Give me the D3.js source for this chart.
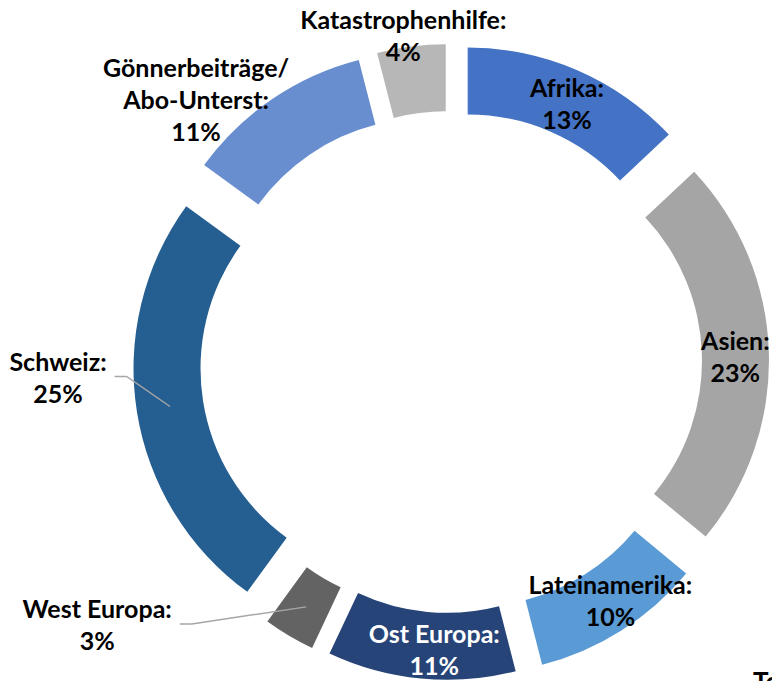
<!DOCTYPE html>
<html><head><meta charset="utf-8">
<script src="https://cdn.jsdelivr.net/npm/d3@7"></script>
<style>body{margin:0;background:#fff;overflow:hidden}</style>
</head><body><svg id="chart" width="772" height="681"></svg>
<script>
// ---- data ----
const categories = ["Afrika", "Asien", "Lateinamerika", "Ost Europa", "West Europa", "Schweiz", "Gönnerbeiträge/ Abo-Unterst", "Katastrophenhilfe"];
const values = [13, 23, 10, 11, 3, 25, 11, 4];
const labelLines = [["Afrika:"], ["Asien:"], ["Lateinamerika:"], ["Ost Europa:"], ["West Europa:"], ["Schweiz:"], ["Gönnerbeiträge/", "Abo-Unterst:"], ["Katastrophenhilfe:"]];
const titleText = "Total";

// ---- styles / layout ----
const colors = ["#4472C4", "#A5A5A5", "#5B9BD5", "#264478", "#636363", "#255E91", "#698ED0", "#B7B7B7"];
const textColors = ["#000", "#000", "#000", "#fff", "#000", "#000", "#000", "#000"];
const labelOffset = [[3, 3], [0, 4], [7, -1], [10, 5], [-209, 18], [-112, -29], [-95, -27], [-12, -44]];
const hasLeader = [false, false, false, false, true, true, false, false];
const cx = 451, cy = 362, rIn = 209, rOut = 276, explode = 42;
const fontSize = 25, lineH = 32;

const svg = d3.select("#chart");
const g = svg.append("g").attr("transform", `translate(${cx},${cy})`);

const total = d3.sum(values);
const pie = d3.pie().sort(null).value(d => d).startAngle(0).endAngle(2 * Math.PI);
const arcs = pie(values);
const arc = d3.arc().innerRadius(rIn).outerRadius(rOut);

function shift(d) {
  const a = (d.startAngle + d.endAngle) / 2;
  return [explode * Math.sin(a), -explode * Math.cos(a)];
}

g.selectAll("path.slice").data(arcs).join("path")
  .attr("class", "slice")
  .attr("d", arc)
  .attr("fill", (d, i) => colors[i])
  .attr("transform", d => { const s = shift(d); return `translate(${s[0]},${s[1]})`; });

const fontFamily = "Lato, 'Liberation Sans', sans-serif";

arcs.forEach((d, i) => {
  const s = shift(d);
  const c = arc.centroid(d);
  const px = c[0] + s[0], py = c[1] + s[1];
  const lx = px + labelOffset[i][0], ly = py + labelOffset[i][1];
  const lines = labelLines[i].concat([Math.round(values[i] / total * 100) + "%"]);
  const t = g.append("text")
    .attr("text-anchor", "middle")
    .attr("font-family", fontFamily)
    .attr("font-weight", 700)
    .attr("font-size", fontSize)
    .attr("fill", textColors[i]);
  lines.forEach((ln, k) => {
    const yy = ly + (k - (lines.length - 1) / 2) * lineH;
    t.append("tspan").attr("x", lx).attr("y", yy).attr("dy", "0.36em").text(ln);
  });
  if (hasLeader[i]) {
    const bb = t.node().getBBox();
    const sx = bb.x + bb.width + 8, sy = ly - 1;
    g.insert("path", "text")
      .attr("d", `M${sx},${sy}H${sx + 12}L${px},${py}`)
      .attr("fill", "none")
      .attr("stroke", "#A6A6A6")
      .attr("stroke-width", 1.5);
  }
});

svg.append("text")
  .attr("x", 753).attr("y", 691)
  .attr("font-family", fontFamily)
  .attr("font-weight", 700)
  .attr("font-size", 26)
  .attr("fill", "#000")
  .text(titleText);
</script>
</body></html>
